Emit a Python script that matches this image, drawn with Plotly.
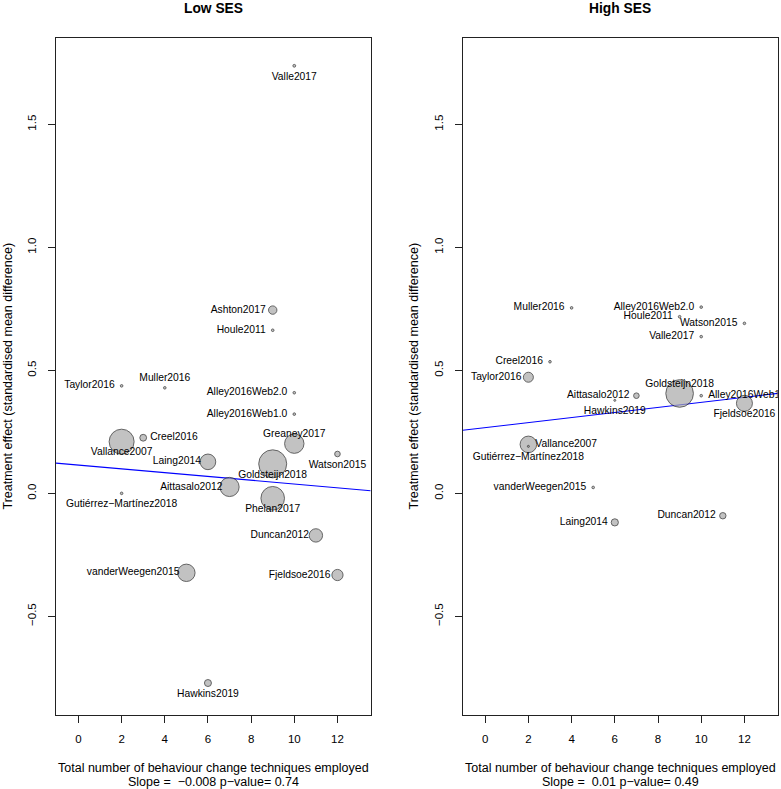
import plotly.graph_objects as go

# ---------------- Data ----------------
# Low SES panel
names_low = ["Valle2017", "Ashton2017", "Houle2011", "Taylor2016", "Muller2016",
             "Alley2016Web2.0", "Alley2016Web1.0", "Creel2016", "Vallance2007",
             "Greaney2017", "Watson2015", "Laing2014", "Goldsteijn2018",
             "Aittasalo2012", "Gutiérrez−Martínez2018", "Phelan2017", "Duncan2012",
             "vanderWeegen2015", "Fjeldsoe2016", "Hawkins2019"]
bct_low = [10, 9, 9, 2, 4, 10, 10, 3, 2, 10, 12, 6, 9, 7, 2, 9, 11, 5, 12, 6]
smd_low = [1.738, 0.745, 0.663, 0.437, 0.429, 0.409, 0.322, 0.226, 0.210, 0.202,
           0.160, 0.128, 0.120, 0.026, 0.000, -0.020, -0.171, -0.323, -0.332, -0.771]
weight_low = [1.4, 4.2, 1.3, 1.3, 1.3, 1.3, 1.3, 3.4, 12.5, 9.7,
              2.8, 7.8, 14.0, 9.6, 1.3, 11.8, 6.7, 8.7, 5.6, 3.5]
labelpos_low = [1, 2, 2, 2, 3, 2, 2, 4, 1, 3, 1, 2, 1, 2, 1, 1, 2, 2, 2, 1]

# High SES panel
names_high = ["Muller2016", "Alley2016Web2.0", "Houle2011", "Watson2015", "Valle2017",
              "Creel2016", "Taylor2016", "Aittasalo2012", "Goldsteijn2018",
              "Alley2016Web1.0", "Hawkins2019", "Fjeldsoe2016", "Vallance2007",
              "Gutiérrez−Martínez2018", "vanderWeegen2015", "Laing2014", "Duncan2012"]
bct_high = [4, 10, 9, 12, 10, 3, 2, 7, 9, 10, 6, 12, 2, 2, 5, 6, 11]
smd_high = [0.754, 0.757, 0.718, 0.691, 0.637, 0.535, 0.472, 0.397, 0.406, 0.397,
            0.378, 0.366, 0.199, 0.191, 0.024, -0.118, -0.091]
weight_high = [1.3, 1.3, 1.3, 1.3, 1.3, 1.3, 5.0, 2.8, 13.8, 1.3,
               1.0, 8.0, 8.3, 1.0, 1.3, 3.6, 3.2]
labelpos_high = [2, 2, 2, 2, 2, 2, 2, 2, 3, 4, 1, 1, 4, 1, 2, 2, 2]

# Meta-regression lines
intercept_low, slope_low = 0.115, -0.0077
intercept_high, slope_high = 0.267, 0.0103

panel_titles = ["Low SES", "High SES"]
x_title = "Total number of behaviour change techniques employed"
slope_texts = ["Slope =  −0.008 p−value= 0.74", "Slope =  0.01 p−value= 0.49"]
y_title = "Treatment effect (standardised mean difference)"
x_tickvals = [0, 2, 4, 6, 8, 10, 12]
y_tickvals = [-0.5, 0.0, 0.5, 1.0, 1.5]
y_ticktext = ["−0.5", "0.0", "0.5", "1.0", "1.5"]
x_range = [-1.04, 13.54]
y_range = [-0.901, 1.851]

# ---------------- Figure ----------------
FONT = "Liberation Sans, Arial, Helvetica, sans-serif"
W, H = 781, 789
fig = go.Figure()

POSMAP = {1: "bottom center", 2: "middle left", 3: "top center", 4: "middle right"}
OFFSET = {1: 8.0, 2: 9.6, 3: 5.0, 4: 9.6}

panels = [
    (names_low, bct_low, smd_low, weight_low, labelpos_low, intercept_low, slope_low, "x", "y"),
    (names_high, bct_high, smd_high, weight_high, labelpos_high, intercept_high, slope_high, "x2", "y2"),
]

for names, xs, ys, ws, lp, b0, b1, xa, ya in panels:
    # regression line
    fig.add_trace(go.Scatter(
        x=x_range, y=[b0 + b1 * x_range[0], b0 + b1 * x_range[1]],
        mode="lines", line=dict(color="#0000FF", width=1.1),
        xaxis=xa, yaxis=ya, hoverinfo="skip"))
    # bubbles
    fig.add_trace(go.Scatter(
        x=xs, y=ys, mode="markers",
        marker=dict(size=[2 * w for w in ws], color="#A9A9A9",
                    line=dict(color="#111111", width=0.9)),
        xaxis=xa, yaxis=ya, hoverinfo="skip"))
    # labels, grouped by position
    for p in (1, 2, 3, 4):
        idx = [i for i, v in enumerate(lp) if v == p]
        if not idx:
            continue
        fig.add_trace(go.Scatter(
            x=[xs[i] for i in idx], y=[ys[i] for i in idx],
            text=[names[i] for i in idx],
            mode="markers+text", textposition=POSMAP[p],
            marker=dict(size=OFFSET[p], opacity=0),
            textfont=dict(family=FONT, size=10.3, color="black"),
            cliponaxis=True, xaxis=xa, yaxis=ya, hoverinfo="skip"))

ydom = [(H - 715) / H, (H - 38) / H]
xdoms = [[56 / W, 370.7 / W], [462.7 / W, 777.7 / W]]

axis_common = dict(showline=True, mirror=True, linecolor="#222222", linewidth=1,
                   ticks="outside", ticklen=7, tickwidth=1, tickcolor="#222222",
                   showgrid=False, zeroline=False,
                   tickfont=dict(family=FONT, size=11.5, color="black"))

fig.update_layout(
    width=W, height=H, margin=dict(l=0, r=0, t=0, b=0),
    plot_bgcolor="white", paper_bgcolor="white", showlegend=False,
    font=dict(family=FONT, color="black"),
    xaxis=dict(domain=xdoms[0], range=x_range, tickvals=x_tickvals,
               anchor="y", ticklabelstandoff=6, **axis_common),
    yaxis=dict(domain=ydom, range=y_range, tickvals=y_tickvals, ticktext=y_ticktext,
               tickangle=-90, anchor="x", ticklabelstandoff=7, **axis_common),
    xaxis2=dict(domain=xdoms[1], range=x_range, tickvals=x_tickvals,
                anchor="y2", ticklabelstandoff=6, **axis_common),
    yaxis2=dict(domain=ydom, range=y_range, tickvals=y_tickvals, ticktext=y_ticktext,
                tickangle=-90, anchor="x2", ticklabelstandoff=7, **axis_common),
)

annotations = []
for k in range(2):
    cx = (xdoms[k][0] + xdoms[k][1]) / 2
    annotations.append(dict(text="<b>" + panel_titles[k] + "</b>", x=cx, y=1 - 9 / H,
                            xref="paper", yref="paper", xanchor="center", yanchor="middle",
                            showarrow=False, font=dict(family=FONT, size=13.8, color="black")))
    annotations.append(dict(text=x_title, x=cx, y=1 - 767.7 / H,
                            xref="paper", yref="paper", xanchor="center", yanchor="middle",
                            showarrow=False, font=dict(family=FONT, size=12.5, color="black")))
    annotations.append(dict(text=slope_texts[k], x=cx, y=1 - 782 / H,
                            xref="paper", yref="paper", xanchor="center", yanchor="middle",
                            showarrow=False, font=dict(family=FONT, size=12.5, color="black")))
    ycx = [7, 413][k]
    annotations.append(dict(text=y_title, x=ycx / W, y=1 - 376.5 / H, textangle=-90,
                            xref="paper", yref="paper", xanchor="center", yanchor="middle",
                            showarrow=False, font=dict(family=FONT, size=12.5, color="black")))
fig.update_layout(annotations=annotations)

fig.write_html("out.html", config={"displayModeBar": False},
               post_script="document.body.style.margin='0';document.body.style.overflow='hidden';")
